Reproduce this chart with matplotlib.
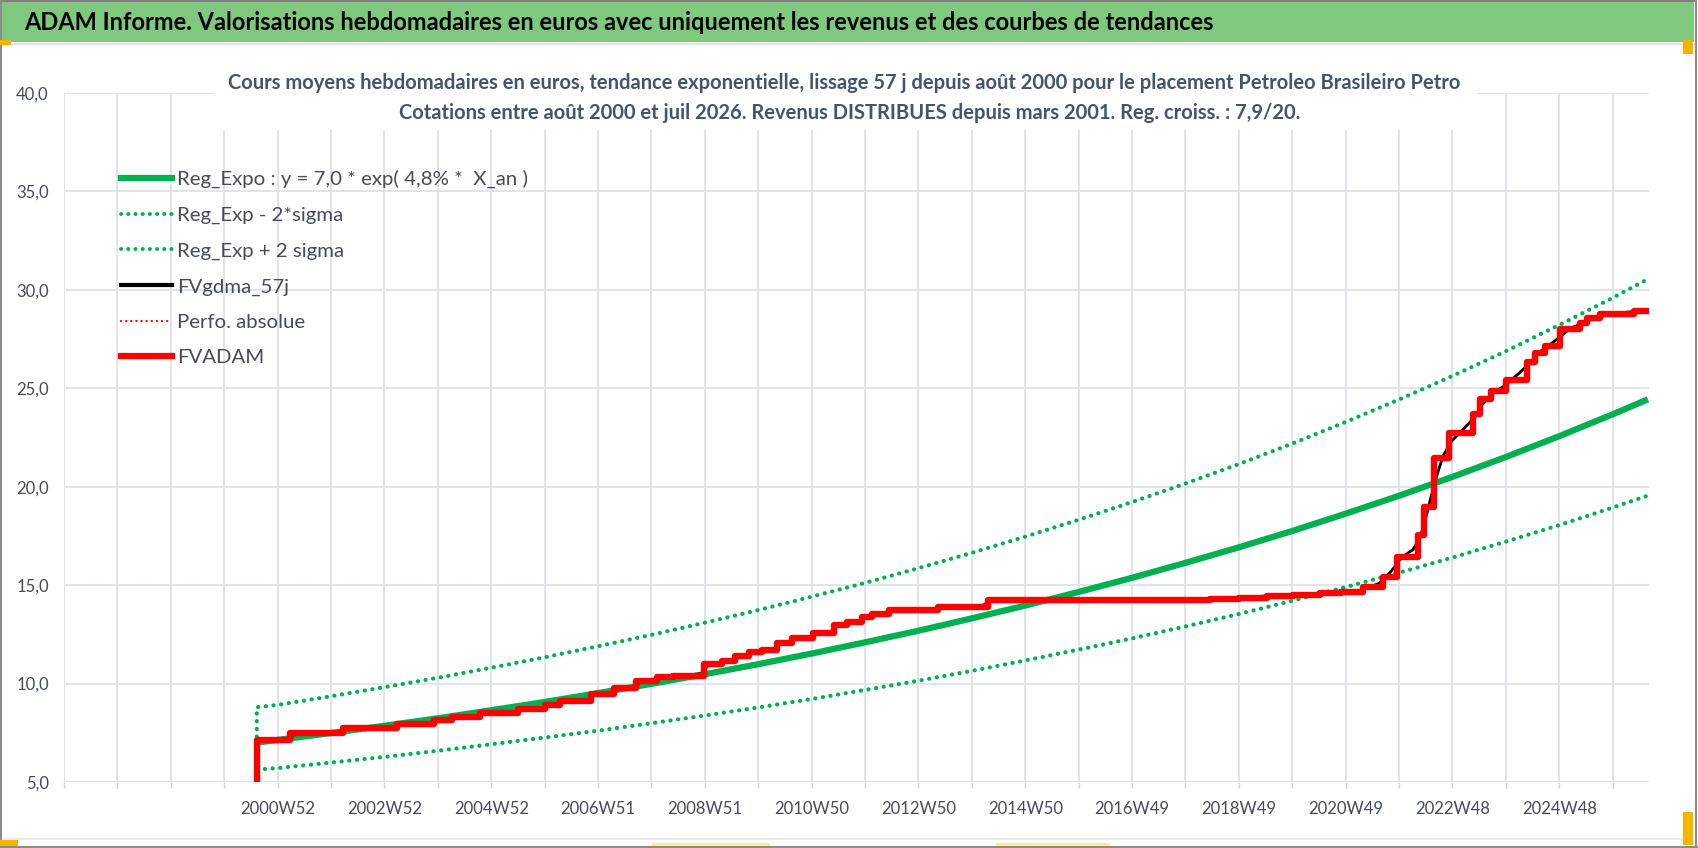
import numpy as np
import matplotlib
matplotlib.use('Agg')
from matplotlib import pyplot as plt
from matplotlib.lines import Line2D
from matplotlib.patches import Rectangle

W, H = 1698, 848
plt.rcParams['font.family'] = ['Lato', 'DejaVu Sans']

# -----------------------------------------------
# data (x in decimal years)
trend_years = [2000.60, 2001, 2002, 2003, 2004, 2005, 2006, 2007, 2008, 2009, 2010,
               2011, 2012, 2013, 2014, 2015, 2016, 2017, 2018, 2019, 2020, 2021,
               2022, 2023, 2024, 2025, 2026, 2026.65]
trend_vals = [7.00, 7.14, 7.49, 7.86, 8.24, 8.65, 9.07, 9.52, 9.99, 10.48, 10.99,
              11.53, 12.10, 12.69, 13.32, 13.97, 14.66, 15.38, 16.14, 16.93, 17.76,
              18.64, 19.55, 20.51, 21.52, 22.58, 23.69, 24.44]
upper_years = [2000.60] + trend_years
upper_vals = [7.30, 8.80, 8.92, 9.36, 9.82, 10.30, 10.81, 11.34, 11.90, 12.48, 13.10,
              13.74, 14.42, 15.12, 15.87, 16.65, 17.47, 18.33, 19.23, 20.17, 21.16,
              22.20, 23.30, 24.44, 25.64, 26.90, 28.23, 29.61, 30.55]
lower_years = [2000.75] + trend_years[1:]
lower_vals = [5.66, 5.71, 5.99, 6.28, 6.59, 6.92, 7.26, 7.61, 7.99, 8.38, 8.79,
              9.22, 9.68, 10.15, 10.65, 11.18, 11.73, 12.30, 12.91, 13.54, 14.21,
              14.91, 15.64, 16.41, 17.22, 18.06, 18.95, 19.55]

red_years = [2000.60, 2000.60, 2001.22, 2002.22, 2003.22, 2003.91, 2004.25, 2004.78,
             2005.50, 2006.00, 2006.28, 2006.85, 2007.28, 2007.71, 2008.09, 2008.39,
             2008.98, 2009.31, 2009.56, 2009.81, 2010.06, 2010.34, 2010.62, 2011.02,
             2011.40, 2011.65, 2011.93, 2012.12, 2012.43, 2013.36, 2014.30, 2018.45,
             2019.00, 2019.51, 2020.00, 2020.50, 2020.90, 2021.32, 2021.68, 2021.95,
             2022.35, 2022.45, 2022.65, 2022.93, 2023.37, 2023.51, 2023.71, 2023.99,
             2024.38, 2024.53, 2024.72, 2025.00, 2025.37, 2025.50, 2025.75, 2026.38,
             2026.65]
red_vals = [0.0, 7.13, 7.47, 7.76, 7.97, 8.17, 8.32, 8.52,
            8.73, 8.90, 9.09, 9.49, 9.76, 10.13, 10.31, 10.41,
            11.00, 11.17, 11.42, 11.59, 11.71, 12.08, 12.30, 12.55,
            12.95, 13.14, 13.39, 13.54, 13.74, 13.91, 14.25, 14.30,
            14.36, 14.45, 14.52, 14.58, 14.64, 14.89, 15.40, 16.41,
            17.55, 18.97, 21.45, 22.72, 23.70, 24.45, 24.84, 25.40,
            26.36, 26.79, 27.13, 28.00, 28.34, 28.56, 28.78, 28.95,
            28.95]

black_years = [2000.60, 2001.15, 2001.30, 2002.15, 2002.30, 2003.15, 2003.30, 2003.85,
               2004.00, 2004.20, 2004.32, 2004.72, 2004.86, 2005.45, 2005.58, 2005.95,
               2006.08, 2006.24, 2006.36, 2006.80, 2006.93, 2007.23, 2007.36, 2007.66,
               2007.79, 2008.04, 2008.17, 2008.34, 2008.47, 2008.92, 2009.06, 2009.28,
               2009.39, 2009.52, 2009.64, 2009.77, 2009.89, 2010.02, 2010.14, 2010.30,
               2010.42, 2010.58, 2010.70, 2010.98, 2011.10, 2011.36, 2011.48, 2011.61,
               2011.73, 2011.89, 2012.01, 2012.09, 2012.20, 2012.39, 2012.51, 2013.30,
               2013.44, 2014.20, 2014.38, 2018.45, 2019.51, 2020.50, 2021.20, 2021.40,
               2021.62, 2021.76, 2021.90, 2022.03, 2022.25, 2022.38, 2022.48, 2022.58,
               2022.70, 2022.82, 2022.97, 2023.20, 2023.40, 2023.55, 2023.75, 2024.00,
               2024.25, 2024.45, 2024.60, 2024.78, 2025.00, 2025.20, 2025.42, 2025.55,
               2025.80, 2026.20, 2026.45, 2026.65]
black_vals = [7.13, 7.20, 7.40, 7.50, 7.72, 7.78, 7.95, 8.00,
              8.15, 8.20, 8.30, 8.35, 8.50, 8.55, 8.71, 8.75,
              8.89, 8.93, 9.07, 9.15, 9.45, 9.52, 9.74, 9.80,
              10.10, 10.15, 10.30, 10.33, 10.40, 10.50, 10.95, 11.05,
              11.15, 11.22, 11.40, 11.45, 11.57, 11.62, 11.70, 11.80,
              12.05, 12.12, 12.28, 12.35, 12.53, 12.65, 12.93, 12.98,
              13.12, 13.18, 13.37, 13.42, 13.53, 13.58, 13.73, 13.77,
              13.90, 13.98, 14.24, 14.30, 14.45, 14.58, 14.66, 14.85,
              15.10, 15.45, 15.90, 16.40, 16.80, 17.40, 18.30, 19.40,
              20.60, 21.60, 22.30, 22.95, 23.50, 24.20, 24.75, 25.20,
              25.80, 26.30, 26.80, 27.15, 27.60, 28.05, 28.30, 28.52,
              28.75, 28.85, 28.92, 28.95]

week_labels = ['2000W52', '2002W52', '2004W52', '2006W51', '2008W51', '2010W50', '2012W50',
               '2014W50', '2016W49', '2018W49', '2020W49', '2022W48', '2024W48']
y_ticks = [5, 10, 15, 20, 25, 30, 35, 40]

legend_labels = ['Reg_Expo : y = 7,0 * exp( 4,8% *  X_an )', 'Reg_Exp - 2*sigma',
                 'Reg_Exp + 2 sigma', 'FVgdma_57j', 'Perfo. absolue', 'FVADAM']

title = ('ADAM Informe. Valorisations hebdomadaires en euros avec uniquement les revenus '
         'et des courbes de tendances')
sub1 = ('Cours moyens hebdomadaires en euros, tendance exponentielle, lissage 57 j depuis '
        'août 2000 pour le placement Petroleo Brasileiro Petro')
sub2 = ('Cotations entre août 2000 et juil 2026. Revenus DISTRIBUES depuis mars 2001. '
        'Reg. croiss. : 7,9/20.')
# -----------------------------------------------

GREEN = '#00B050'
GRID = '#DDE1E8'
TXT = '#454B58'
x0 = 1996.99          # first grid line of the weekly axis
x1 = x0 + 29.68


def fx(px):
    return px / W


def fy(py):
    return 1 - py / H


fig = plt.figure(figsize=(W / 100, H / 100), dpi=100)
fig.patch.set_facecolor('white')

ax = fig.add_axes([fx(64), fy(782), fx(1649) - fx(64), fy(93) - fy(782)])
ax.set_xlim(x0, x1)
ax.set_ylim(5, 40)

grid_x = [x0 + k for k in range(30)]
ax.set_xticks(grid_x)
ax.set_xticklabels(['' if (k < 4 or k % 2) else week_labels[(k - 4) // 2] for k in range(30)])
ax.set_yticks(y_ticks)
ax.set_yticklabels([f'{v:.1f}'.replace('.', ',') for v in y_ticks])
ax.tick_params(axis='x', length=4.5, color='#D0D4DA', width=1, pad=9, labelsize=12, labelcolor=TXT)
ax.tick_params(axis='y', length=0, pad=11, labelsize=12, labelcolor=TXT)
ax.grid(True, color=GRID, lw=1.3)
ax.set_axisbelow(True)
for s in ax.spines.values():
    s.set_visible(False)

dots = (0, (0.05, 1.8))
ax.plot(trend_years, trend_vals, color=GREEN, lw=4.5, solid_capstyle='butt', zorder=3)
ax.plot(lower_years, lower_vals, color=GREEN, lw=3.0, ls=dots, dash_capstyle='round', zorder=3)
ax.plot(upper_years, upper_vals, color=GREEN, lw=3.0, ls=dots, dash_capstyle='round', zorder=3)
ax.plot(black_years, black_vals, color='black', lw=2.0, zorder=4)
ax.plot(red_years, red_vals, color='#FF0000', lw=4.6, drawstyle='steps-post', zorder=5)

handles = [
    Line2D([], [], color=GREEN, lw=4.5),
    Line2D([], [], color=GREEN, lw=2.8, ls=dots, dash_capstyle='round'),
    Line2D([], [], color=GREEN, lw=2.8, ls=dots, dash_capstyle='round'),
    Line2D([], [], color='black', lw=3.0),
    Line2D([], [], color='#FF0000', lw=1.6, ls=(0, (0.1, 2.2)), dash_capstyle='round'),
    Line2D([], [], color='#FF0000', lw=4.5),
]
leg = ax.legend(handles, legend_labels, loc='upper left', bbox_to_anchor=(fx(121), fy(170)),
                bbox_transform=fig.transFigure, frameon=False, fontsize=14.7,
                handlelength=2.5, handletextpad=0.25, labelspacing=0.89,
                borderpad=0, borderaxespad=0)
for t in leg.get_texts():
    t.set_color(TXT)

# title box over the top of the plot
fig.add_artist(Rectangle((fx(214), fy(130)), fx(1477) - fx(214), fy(55) - fy(130),
                         transform=fig.transFigure, facecolor='white', edgecolor='none', zorder=5))
fig.text(fx(844), fy(83), sub1, ha='center', va='center', fontsize=14.5, weight='bold',
         color='#44546A', zorder=6)
fig.text(fx(850), fy(113), sub2, ha='center', va='center', fontsize=14.5, weight='bold',
         color='#44546A', zorder=6)

# green banner
fig.add_artist(Rectangle((0, fy(42)), fx(1694), fy(0) - fy(42), transform=fig.transFigure,
                         facecolor='#7FC97F', edgecolor='none', zorder=5))
fig.add_artist(Line2D([0, fx(1694)], [fy(1), fy(1)], transform=fig.transFigure,
                      color='#808080', lw=1.5, zorder=6))
fig.add_artist(Line2D([0, fx(1694)], [fy(44), fy(44)], transform=fig.transFigure,
                      color='#E3E6EA', lw=1.5, zorder=6))
fig.text(fx(24), fy(23), title, ha='left', va='center', fontsize=17, weight='bold',
         color='black', zorder=7)

# outer frame and selection handles
for xs, ys in [([fx(1), fx(1)], [fy(0), fy(848)]), ([fx(1696), fx(1696)], [fy(0), fy(848)]),
               ([0, 1], [fy(847), fy(847)])]:
    fig.add_artist(Line2D(xs, ys, transform=fig.transFigure, color='#8C8C8C', lw=1.5, zorder=6))
fig.add_artist(Line2D([fx(4), fx(1690)], [fy(839), fy(839)], transform=fig.transFigure,
                      color='#E6E8EC', lw=1.2, zorder=6))
for (px, py, pw, ph, c) in [(0, 40, 11, 5, '#F4B400'), (1683, 40, 10, 14, '#F4B400'),
                            (1683, 812, 10, 33, '#F4B400'), (0, 840, 18, 6, '#F4B400'),
                            (652, 843, 118, 3, '#FFF27A'), (996, 843, 114, 3, '#FFF27A')]:
    fig.add_artist(Rectangle((fx(px), fy(py + ph)), pw / W, ph / H, transform=fig.transFigure,
                             facecolor=c, edgecolor='none', zorder=7))

fig.savefig('out.png', dpi=100)
